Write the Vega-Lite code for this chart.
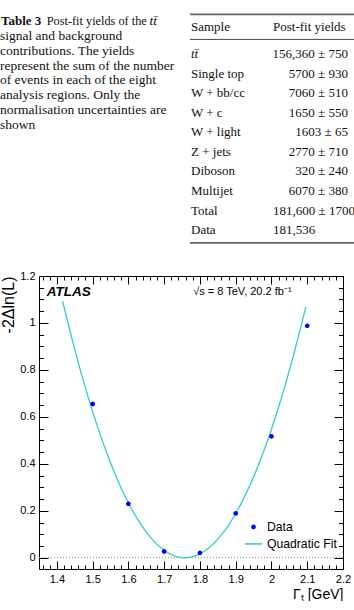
{
  "$schema": "https://vega.github.io/schema/vega-lite/v6.json",
  "background": "white",
  "padding": {"left": 0, "top": 13, "right": 0, "bottom": 0},
  "autosize": {"type": "pad"},
  "bounds": "full",
  "spacing": 20,
  "config": {
    "view": {"stroke": null},
    "font": "Liberation Sans",
    "axis": {"grid": false, "domainColor": "#000", "tickColor": "#000", "labelColor": "#000", "titleColor": "#000", "labelFont": "Liberation Sans", "titleFont": "Liberation Sans", "titleFontWeight": "normal", "labelFlush": false, "labelOverlap": false, "domainWidth": 1, "tickWidth": 1}
  },
  "datasets": {
    "caption": [
      {"line": 1, "part": "label", "text": "Table 3"},
      {"line": 1, "part": "lead", "text": "Post-fit yields of the"},
      {"line": 1, "part": "symbol", "text": "tt̄"},
      {"line": 2, "part": "body", "text": "signal and background"},
      {"line": 3, "part": "body", "text": "contributions. The yields"},
      {"line": 4, "part": "body", "text": "represent the sum of the number"},
      {"line": 5, "part": "body", "text": "of events in each of the eight"},
      {"line": 6, "part": "body", "text": "analysis regions. Only the"},
      {"line": 7, "part": "body", "text": "normalisation uncertainties are"},
      {"line": 8, "part": "body", "text": "shown"}
    ],
    "columns": [{"column": "Sample"}, {"column": "Post-fit yields"}],
    "yields": [
      {"sample": "tt̄", "yields": "156,360 ± 750"},
      {"sample": "Single top", "yields": "5700 ± 930"},
      {"sample": "W + bb/cc", "yields": "7060 ± 510"},
      {"sample": "W + c", "yields": "1650 ± 550"},
      {"sample": "W + light", "yields": "1603 ± 65"},
      {"sample": "Z + jets", "yields": "2770 ± 710"},
      {"sample": "Diboson", "yields": "320 ± 240"},
      {"sample": "Multijet", "yields": "6070 ± 380"},
      {"sample": "Total", "yields": "181,600 ± 1700"},
      {"sample": "Data", "yields": "181,536"}
    ],
    "measured": [
      {"width": 1.5, "nll": 0.655, "series": "Data"},
      {"width": 1.6, "nll": 0.23, "series": "Data"},
      {"width": 1.7, "nll": 0.027, "series": "Data"},
      {"width": 1.8, "nll": 0.021, "series": "Data"},
      {"width": 1.9, "nll": 0.189, "series": "Data"},
      {"width": 2.0, "nll": 0.517, "series": "Data"},
      {"width": 2.1, "nll": 0.988, "series": "Data"}
    ],
    "fit": [
      {"width": 1.416, "nll": 1.0936},
      {"width": 1.44, "nll": 0.9455},
      {"width": 1.46, "nll": 0.8303},
      {"width": 1.48, "nll": 0.7226},
      {"width": 1.5, "nll": 0.6224},
      {"width": 1.52, "nll": 0.5296},
      {"width": 1.54, "nll": 0.4443},
      {"width": 1.56, "nll": 0.3665},
      {"width": 1.58, "nll": 0.2962},
      {"width": 1.6, "nll": 0.2334},
      {"width": 1.62, "nll": 0.178},
      {"width": 1.64, "nll": 0.1302},
      {"width": 1.66, "nll": 0.0898},
      {"width": 1.68, "nll": 0.0569},
      {"width": 1.7, "nll": 0.0315},
      {"width": 1.72, "nll": 0.0135},
      {"width": 1.74, "nll": 0.003},
      {"width": 1.758, "nll": 0},
      {"width": 1.78, "nll": 0.0045},
      {"width": 1.8, "nll": 0.0165},
      {"width": 1.82, "nll": 0.0359},
      {"width": 1.84, "nll": 0.0629},
      {"width": 1.86, "nll": 0.0973},
      {"width": 1.88, "nll": 0.1392},
      {"width": 1.9, "nll": 0.1885},
      {"width": 1.92, "nll": 0.2454},
      {"width": 1.94, "nll": 0.3097},
      {"width": 1.96, "nll": 0.3815},
      {"width": 1.98, "nll": 0.4608},
      {"width": 2.0, "nll": 0.5476},
      {"width": 2.02, "nll": 0.6418},
      {"width": 2.04, "nll": 0.7435},
      {"width": 2.06, "nll": 0.8528},
      {"width": 2.08, "nll": 0.9694},
      {"width": 2.096, "nll": 1.0682}
    ]
  },
  "vconcat": [
    {
      "bounds": "flush",
      "spacing": 20,
      "hconcat": [
        {
          "width": 131,
          "height": {"step": 14.85},
          "data": {"name": "caption"},
          "encoding": {
            "x": {"datum": 0, "type": "quantitative", "scale": {"domain": [0, 1], "nice": false, "zero": false}, "axis": null},
            "y": {"field": "line", "type": "ordinal", "sort": null, "scale": {"type": "point", "padding": 0.41}, "axis": null},
            "text": {"field": "text"}
          },
          "layer": [
            {"transform": [{"filter": "datum.part === 'label'"}], "mark": {"type": "text", "font": "Liberation Serif", "fontSize": 13, "fontWeight": "bold", "align": "left", "baseline": "middle", "dx": -38, "color": "#111"}},
            {"transform": [{"filter": "datum.part === 'lead'"}], "mark": {"type": "text", "font": "Liberation Serif", "fontSize": 12.3, "align": "left", "baseline": "middle", "dx": 7.7, "color": "#111"}},
            {"transform": [{"filter": "datum.part === 'symbol'"}], "mark": {"type": "text", "font": "Liberation Serif", "fontSize": 13.5, "fontStyle": "italic", "align": "left", "baseline": "middle", "dx": 110.5, "color": "#111"}},
            {"transform": [{"filter": "datum.part === 'body'"}], "mark": {"type": "text", "font": "Liberation Serif", "fontSize": 13.5, "align": "left", "baseline": "middle", "dx": -39, "color": "#111"}}
          ]
        },
        {
          "width": 164,
          "height": {"step": 19.55},
          "layer": [
            {
              "data": {"values": [{}]},
              "mark": {"type": "rule", "color": "#666", "strokeWidth": 1.6},
              "encoding": {"y": {"datum": "Sample", "type": "nominal", "bandPosition": -0.53, "axis": null, "scale": {"type": "band", "domain": ["Sample", "tt̄", "Single top", "W + bb/cc", "W + c", "W + light", "Z + jets", "Diboson", "Multijet", "Total", "Data"], "paddingInner": 0, "paddingOuter": 0.5}}}
            },
            {
              "data": {"values": [{}]},
              "mark": {"type": "rule", "color": "#444", "strokeWidth": 1},
              "encoding": {"y": {"datum": "Sample", "type": "nominal", "bandPosition": 0.748, "axis": null, "scale": {"type": "band", "domain": ["Sample", "tt̄", "Single top", "W + bb/cc", "W + c", "W + light", "Z + jets", "Diboson", "Multijet", "Total", "Data"], "paddingInner": 0, "paddingOuter": 0.5}}}
            },
            {
              "data": {"values": [{}]},
              "mark": {"type": "rule", "color": "#666", "strokeWidth": 1.6},
              "encoding": {"y": {"datum": "Data", "type": "nominal", "bandPosition": 1.157, "axis": null, "scale": {"type": "band", "domain": ["Sample", "tt̄", "Single top", "W + bb/cc", "W + c", "W + light", "Z + jets", "Diboson", "Multijet", "Total", "Data"], "paddingInner": 0, "paddingOuter": 0.5}}}
            },
            {
              "data": {"name": "columns"},
              "mark": {"type": "text", "font": "Liberation Serif", "fontSize": 13, "align": "left", "baseline": "middle", "dx": 1, "dy": -7.45, "color": "#111"},
              "encoding": {
                "x": {"field": "column", "type": "nominal", "bandPosition": 0, "axis": null, "scale": {"type": "band", "domain": ["Sample", "Post-fit yields"], "paddingInner": 0, "paddingOuter": 0}},
                "y": {"datum": "Sample", "type": "nominal", "bandPosition": 0.5, "axis": null, "scale": {"type": "band", "domain": ["Sample", "tt̄", "Single top", "W + bb/cc", "W + c", "W + light", "Z + jets", "Diboson", "Multijet", "Total", "Data"], "paddingInner": 0, "paddingOuter": 0.5}},
                "text": {"field": "column"}
              }
            },
            {
              "data": {"name": "yields"},
              "transform": [{"filter": "datum.sample !== 'tt̄'"}],
              "mark": {"type": "text", "font": "Liberation Serif", "fontSize": 13, "align": "left", "baseline": "middle", "dx": 1, "color": "#111"},
              "encoding": {
                "x": {"datum": "Sample", "type": "nominal", "bandPosition": 0, "axis": null, "scale": {"type": "band", "domain": ["Sample", "Post-fit yields"], "paddingInner": 0, "paddingOuter": 0}},
                "y": {"field": "sample", "type": "nominal", "bandPosition": 0.5, "axis": null, "scale": {"type": "band", "domain": ["Sample", "tt̄", "Single top", "W + bb/cc", "W + c", "W + light", "Z + jets", "Diboson", "Multijet", "Total", "Data"], "paddingInner": 0, "paddingOuter": 0.5}},
                "text": {"field": "sample"}
              }
            },
            {
              "data": {"name": "yields"},
              "transform": [{"filter": "datum.sample === 'tt̄'"}],
              "mark": {"type": "text", "font": "Liberation Serif", "fontSize": 13, "fontStyle": "italic", "align": "left", "baseline": "middle", "dx": 1, "color": "#111"},
              "encoding": {
                "x": {"datum": "Sample", "type": "nominal", "bandPosition": 0, "axis": null, "scale": {"type": "band", "domain": ["Sample", "Post-fit yields"], "paddingInner": 0, "paddingOuter": 0}},
                "y": {"field": "sample", "type": "nominal", "bandPosition": 0.5, "axis": null, "scale": {"type": "band", "domain": ["Sample", "tt̄", "Single top", "W + bb/cc", "W + c", "W + light", "Z + jets", "Diboson", "Multijet", "Total", "Data"], "paddingInner": 0, "paddingOuter": 0.5}},
                "text": {"field": "sample"}
              }
            },
            {
              "data": {"name": "yields"},
              "transform": [{"filter": "datum.sample !== 'Total' && datum.sample !== 'Data'"}],
              "mark": {"type": "text", "font": "Liberation Serif", "fontSize": 13, "align": "right", "baseline": "middle", "dx": -6, "color": "#111"},
              "encoding": {
                "x": {"datum": "Post-fit yields", "type": "nominal", "bandPosition": 1, "axis": null, "scale": {"type": "band", "domain": ["Sample", "Post-fit yields"], "paddingInner": 0, "paddingOuter": 0}},
                "y": {"field": "sample", "type": "nominal", "bandPosition": 0.5, "axis": null, "scale": {"type": "band", "domain": ["Sample", "tt̄", "Single top", "W + bb/cc", "W + c", "W + light", "Z + jets", "Diboson", "Multijet", "Total", "Data"], "paddingInner": 0, "paddingOuter": 0.5}},
                "text": {"field": "yields"}
              }
            },
            {
              "data": {"name": "yields"},
              "transform": [{"filter": "datum.sample === 'Total' || datum.sample === 'Data'"}],
              "mark": {"type": "text", "font": "Liberation Serif", "fontSize": 13, "align": "left", "baseline": "middle", "dx": 1, "color": "#111", "clip": true},
              "encoding": {
                "x": {"datum": "Post-fit yields", "type": "nominal", "bandPosition": 0, "axis": null, "scale": {"type": "band", "domain": ["Sample", "Post-fit yields"], "paddingInner": 0, "paddingOuter": 0}},
                "y": {"field": "sample", "type": "nominal", "bandPosition": 0.5, "axis": null, "scale": {"type": "band", "domain": ["Sample", "tt̄", "Single top", "W + bb/cc", "W + c", "W + light", "Z + jets", "Diboson", "Multijet", "Total", "Data"], "paddingInner": 0, "paddingOuter": 0.5}},
                "text": {"field": "yields"}
              }
            }
          ]
        }
      ]
    },
    {
      "width": 304,
      "height": 293,
      "resolve": {"axis": {"x": "independent", "y": "independent"}},
      "layer": [
        {
          "data": {"values": [{}]},
          "mark": {"type": "rule", "color": "#888", "strokeDash": [1, 2], "strokeWidth": 1},
          "encoding": {
            "y": {"datum": 0, "type": "quantitative", "scale": {"domain": [-0.048, 1.2], "nice": false, "zero": false},
              "axis": {"orient": "left", "values": [0.05, 0.1, 0.15, 0.25, 0.3, 0.35, 0.45, 0.5, 0.55, 0.65, 0.7, 0.75, 0.85, 0.9, 0.95, 1.05, 1.1, 1.15], "tickSize": -4.5, "labels": false, "domain": false, "title": null}}
          }
        },
        {
          "data": {"name": "fit"},
          "mark": {"type": "line", "color": "#33cccc", "strokeWidth": 1.3, "interpolate": "monotone"},
          "encoding": {
            "x": {"field": "width", "type": "quantitative", "scale": {"domain": [1.35, 2.2], "nice": false, "zero": false},
              "axis": {"orient": "top", "values": [1.4, 1.5, 1.6, 1.7, 1.8, 1.9, 2, 2.1, 2.2], "tickSize": -8, "labels": false, "domain": true, "title": null}},
            "y": {"field": "nll", "type": "quantitative", "scale": {"domain": [-0.048, 1.2], "nice": false, "zero": false},
              "axis": {"orient": "right", "values": [0, 0.2, 0.4, 0.6, 0.8, 1, 1.2], "tickSize": -9, "labels": false, "domain": true, "title": null}}
          }
        },
        {
          "data": {"name": "measured"},
          "mark": {"type": "point", "filled": true, "size": 300, "opacity": 1},
          "encoding": {
            "x": {"field": "width", "type": "quantitative", "scale": {"domain": [1.35, 2.2], "nice": false, "zero": false},
              "axis": {"orient": "bottom", "values": [1.4, 1.5, 1.6, 1.7, 1.8, 1.9, 2, 2.1, 2.2], "format": "~g", "tickSize": -8, "labelPadding": 12, "labelFontSize": 11, "domain": true, "title": "Γₜ [GeV]", "titleAnchor": "end", "titleFontSize": 14, "titlePadding": 3}},
            "y": {"field": "nll", "type": "quantitative", "scale": {"domain": [-0.048, 1.2], "nice": false, "zero": false},
              "axis": {"orient": "left", "values": [0, 0.2, 0.4, 0.6, 0.8, 1, 1.2], "format": "~g", "tickSize": -9, "labelPadding": 13, "labelFontSize": 11, "domain": true, "title": "-2Δln(L)", "titleAnchor": "end", "titleFontSize": 16, "titlePadding": 3}},
            "color": {"field": "series", "type": "nominal", "scale": {"domain": ["Data", "Quadratic Fit"], "range": ["#0000ff", "#33cccc"]},
              "legend": {"title": null, "orient": "none", "legendX": 205, "legendY": 502.4, "padding": 0, "symbolSize": 300, "labelFontSize": 12.2, "labelFont": "Liberation Sans", "labelColor": "#000", "labelOffset": 4, "rowPadding": 1, "symbolOpacity": 1}},
            "shape": {"field": "series", "type": "nominal", "scale": {"domain": ["Data", "Quadratic Fit"], "range": ["M0.27,0A0.27,0.27,0,1,1,-0.27,0A0.27,0.27,0,1,1,0.27,0Z", "M-1,-0.09L1,-0.09L1,0.09L-1,0.09Z"]},
              "legend": {"title": null, "orient": "none", "legendX": 205, "legendY": 502.4, "padding": 0, "symbolSize": 300, "labelFontSize": 12.2, "labelFont": "Liberation Sans", "labelColor": "#000", "labelOffset": 4, "rowPadding": 1, "symbolOpacity": 1}}
          }
        },
        {
          "data": {"values": [{}]},
          "mark": {"type": "text", "text": "ATLAS", "font": "Liberation Sans", "fontSize": 13.5, "fontWeight": "bold", "fontStyle": "italic", "align": "left", "baseline": "middle", "color": "#000"},
          "encoding": {
            "x": {"datum": 1.372, "type": "quantitative", "scale": {"domain": [1.35, 2.2], "nice": false, "zero": false},
              "axis": {"orient": "bottom", "values": [1.36, 1.38, 1.42, 1.44, 1.46, 1.48, 1.52, 1.54, 1.56, 1.58, 1.62, 1.64, 1.66, 1.68, 1.72, 1.74, 1.76, 1.78, 1.82, 1.84, 1.86, 1.88, 1.92, 1.94, 1.96, 1.98, 2.02, 2.04, 2.06, 2.08, 2.12, 2.14, 2.16, 2.18], "tickSize": -4, "labels": false, "domain": false, "title": null}},
            "y": {"datum": 1.131, "type": "quantitative", "scale": {"domain": [-0.048, 1.2], "nice": false, "zero": false},
              "axis": {"orient": "right", "values": [0.05, 0.1, 0.15, 0.25, 0.3, 0.35, 0.45, 0.5, 0.55, 0.65, 0.7, 0.75, 0.85, 0.9, 0.95, 1.05, 1.1, 1.15], "tickSize": -4.5, "labels": false, "domain": false, "title": null}}
          }
        },
        {
          "data": {"values": [{}]},
          "mark": {"type": "text", "text": "√s = 8 TeV, 20.2 fb⁻¹", "font": "Liberation Sans", "fontSize": 11, "align": "left", "baseline": "middle", "color": "#000"},
          "encoding": {
            "x": {"datum": 1.781, "type": "quantitative", "scale": {"domain": [1.35, 2.2], "nice": false, "zero": false},
              "axis": {"orient": "top", "values": [1.36, 1.38, 1.42, 1.44, 1.46, 1.48, 1.52, 1.54, 1.56, 1.58, 1.62, 1.64, 1.66, 1.68, 1.72, 1.74, 1.76, 1.78, 1.82, 1.84, 1.86, 1.88, 1.92, 1.94, 1.96, 1.98, 2.02, 2.04, 2.06, 2.08, 2.12, 2.14, 2.16, 2.18], "tickSize": -4, "labels": false, "domain": false, "title": null}},
            "y": {"datum": 1.131, "type": "quantitative", "scale": {"domain": [-0.048, 1.2], "nice": false, "zero": false}, "axis": null}
          }
        }
      ]
    }
  ]
}
